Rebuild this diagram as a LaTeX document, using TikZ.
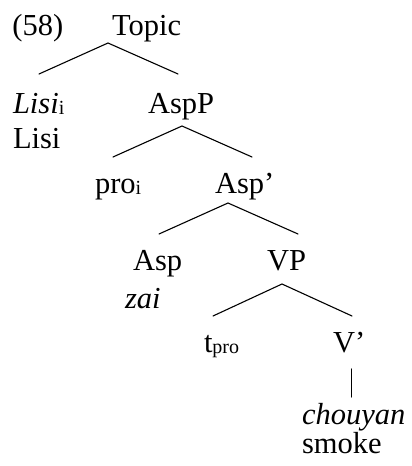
\documentclass[tikz,border=0pt]{standalone}
\usepackage{fontspec}
\setmainfont{Liberation Serif}
\newcommand{\bigtxt}{\fontsize{30.5}{36}\selectfont}
\newcommand{\subtxt}[1]{\raisebox{-1.5pt}{\fontsize{20}{24}\selectfont #1}}
\begin{document}
\begin{tikzpicture}[x=1pt,y=-1pt,
  lbl/.style={anchor=base west,inner sep=0pt,outer sep=0pt,font=\bigtxt},
  branch/.style={line width=1.1pt,line cap=round}]
\useasboundingbox (0,0) rectangle (412,466);
% labels
\node[lbl] (ex) at (12.5,35) {(58)};
\node[lbl] (topic) at (112,35) {Topic};
\node[lbl] (lisii) at (13,113) {\textit{Lisi}\subtxt{i}};
\node[lbl] (lisi) at (13,148) {Lisi};
\node[lbl] (aspp) at (148,113) {AspP};
\node[lbl] (pro) at (95,193) {pro\subtxt{i}};
\node[lbl] (aspbar) at (215,193) {Asp’};
\node[lbl] (asp) at (133,270) {Asp};
\node[lbl] (zai) at (125,308) {\textit{zai}};
\node[lbl] (vp) at (267,270) {VP};
\node[lbl] (tpro) at (204,352) {t\subtxt{pro}};
\node[lbl] (vbar) at (333,352) {V’};
\node[lbl,align=left,font=\fontsize{30.5}{26}\selectfont] (chouyan) at (302,453) {\textit{chouyan}\\smoke};
% branch points
\coordinate (topicB) at (108,43);
\coordinate (topicL) at (39,74);
\coordinate (topicR) at (178,74);
\coordinate (asppB) at (182,126);
\coordinate (asppL) at (113,157);
\coordinate (asppR) at (252,157);
\coordinate (aspbarB) at (228,203);
\coordinate (aspbarL) at (159,234);
\coordinate (aspbarR) at (298,234);
\coordinate (vpB) at (282,284);
\coordinate (vpL) at (213,316);
\coordinate (vpR) at (352,316);
\coordinate (vbarT) at (351.5,369);
\coordinate (vbarD) at (351.5,397);
% branches
\draw[branch] (topicL) -- (topicB) -- (topicR);
\draw[branch] (asppL) -- (asppB) -- (asppR);
\draw[branch] (aspbarL) -- (aspbarB) -- (aspbarR);
\draw[branch] (vpL) -- (vpB) -- (vpR);
\draw[branch] (vbarT) -- (vbarD);
\end{tikzpicture}
\end{document}
